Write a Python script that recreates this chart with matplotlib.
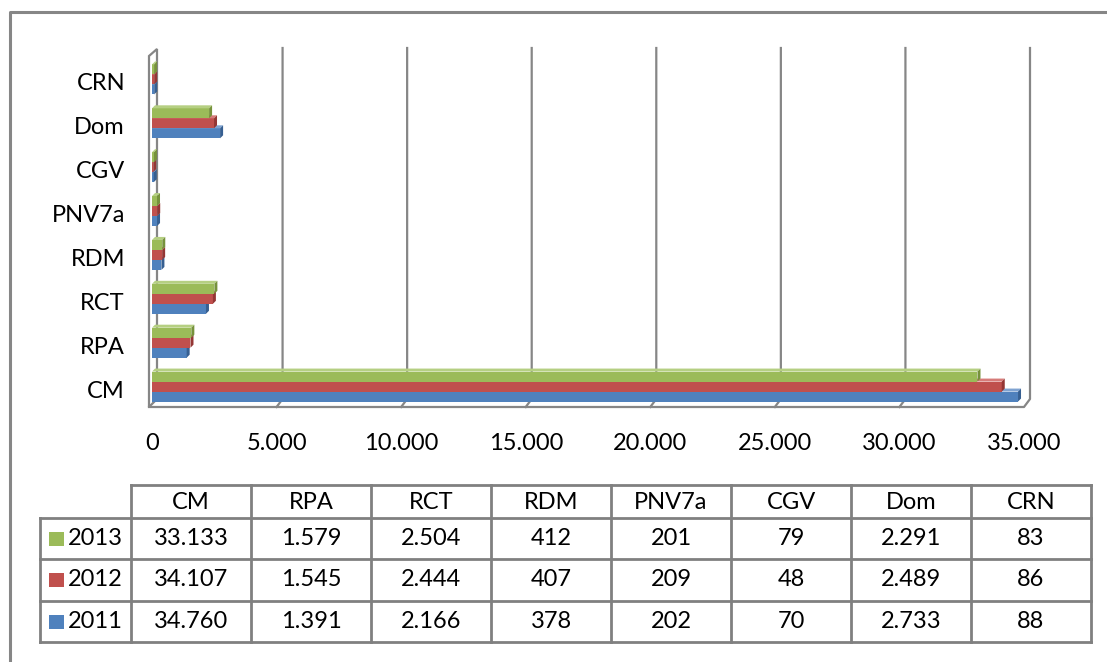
import numpy as np
import matplotlib
matplotlib.use('Agg')
import matplotlib.pyplot as plt
from matplotlib.patches import Polygon, Rectangle

plt.rcParams['font.family'] = ['Lato', 'DejaVu Sans']

# dados do grafico
categorias = ['CM', 'RPA', 'RCT', 'RDM', 'PNV7a', 'CGV', 'Dom', 'CRN']
anos = ['2013', '2012', '2011']
v2013 = [33133, 1579, 2504, 412, 201, 79, 2291, 83]
v2012 = [34107, 1545, 2444, 407, 209, 48, 2489, 86]
v2011 = [34760, 1391, 2166, 378, 202, 70, 2733, 88]
xticks = [0, 5000, 10000, 15000, 20000, 25000, 30000, 35000]

series = {'2013': v2013, '2012': v2012, '2011': v2011}
cores = {'2013': '#9BBB59', '2012': '#C0504D', '2011': '#4F81BD'}
lados = {'2013': '#76923C', '2012': '#943634', '2011': '#365F91'}
topos = {'2013': '#B5CF82', '2012': '#D67B79', '2011': '#7FA3D1'}

W, H = 1107, 662
GRAY = '#868686'
FS = 17


def fmt(v):
    return f'{v:,}'.replace(',', '.')


fig = plt.figure(figsize=(W / 100, H / 100), dpi=100)

# eixo principal (plano frontal)
x0, x1 = 152, 1024
y_bot, y_top = 407, 56
ax = fig.add_axes([x0 / W, (H - y_bot) / H, (x1 - x0) / W, (y_bot - y_top) / H])
ax.set_xlim(0, 35000)
ax.set_ylim(-0.5, 7.5)
ax.axis('off')

px = 35000 / (x1 - x0)   # unidades por pixel em x
py = 8 / (y_bot - y_top)  # unidades por pixel em y

# profundidade das paredes
wx, wy = 6 * px, 8 * py
for t in xticks[1:-1]:
    ax.plot([t + wx, t + wx, t], [7.5 + wy, -0.5 + wy, -0.5], color=GRAY, lw=1.6,
            clip_on=False, zorder=1)
# parede da direita e piso
ax.plot([-3 * px, 35000, 35000 + wx, 35000 + wx], [-0.5, -0.5, -0.5 + wy, 7.5 + wy],
        color=GRAY, lw=1.6, clip_on=False, zorder=1)
# parede da esquerda
parede = Polygon([(-3 * px, -0.5), (-3 * px, 7.5), (5 * px, 7.5 + 7 * py),
                  (5 * px, -0.5 + wy)], closed=True, facecolor='white',
                 edgecolor=GRAY, lw=1.6, clip_on=False, zorder=2)
ax.add_patch(parede)

# barras com efeito 3D
h = 10 * py
dx, dy = 3 * px, 3 * py
ypos = np.arange(len(categorias))
offs = {'2011': -h, '2012': 0.0, '2013': h}
for ano in ['2011', '2012', '2013']:
    vals = series[ano]
    yy = ypos + offs[ano] - 1.5 * py
    ax.barh(yy, vals, height=h, left=0, color=cores[ano], zorder=3, clip_on=False)
    for y, v in zip(yy, vals):
        topo = Polygon([(0, y + h / 2), (v, y + h / 2), (v + dx, y + h / 2 + dy),
                        (dx, y + h / 2 + dy)], closed=True, facecolor=topos[ano],
                       edgecolor='none', zorder=3, clip_on=False)
        lado = Polygon([(v, y - h / 2), (v + dx, y - h / 2 + dy), (v + dx, y + h / 2 + dy),
                        (v, y + h / 2)], closed=True, facecolor=lados[ano],
                       edgecolor='none', zorder=3, clip_on=False)
        ax.add_patch(topo)
        ax.add_patch(lado)

# rotulos
for t in xticks:
    ax.text(t, -0.5 - 36 * py, fmt(t), ha='center', va='center', fontsize=FS)
for i, c in enumerate(categorias):
    ax.text(-27 * px, i - 6 * py, c, ha='right', va='center', fontsize=FS)

# tabela de dados
tab = fig.add_axes([0, 0, 1, 1])
tab.set_xlim(0, W)
tab.set_ylim(H, 0)
tab.axis('off')

cols = [131 + 120 * k for k in range(len(categorias) + 1)]
rows = [485, 518, 559, 601, 642]
leg_x = 40
lk = dict(color='#808080', lw=2, solid_capstyle='projecting')

tab.plot([cols[0], cols[-1]], [rows[0], rows[0]], **lk)
for r in rows[1:]:
    tab.plot([leg_x, cols[-1]], [r, r], **lk)
tab.plot([leg_x, leg_x], [rows[1], rows[-1]], **lk)
for c in cols:
    tab.plot([c, c], [rows[0], rows[-1]], **lk)

for k, cat in enumerate(categorias):
    cx = (cols[k] + cols[k + 1]) / 2
    tab.text(cx, (rows[0] + rows[1]) / 2 + 1, cat, ha='center', va='center', fontsize=FS)

for r, ano in enumerate(anos):
    cy = (rows[r + 1] + rows[r + 2]) / 2
    tab.add_patch(Rectangle((49, cy - 7), 15, 14, facecolor=cores[ano], edgecolor='none'))
    tab.text(68, cy, ano, ha='left', va='center', fontsize=FS)
    for k, v in enumerate(series[ano]):
        cx = (cols[k] + cols[k + 1]) / 2
        tab.text(cx, cy, fmt(v), ha='center', va='center', fontsize=FS)

# borda externa
tab.plot([10, 10, W], [H, 12, 12], color=GRAY, lw=2.2)

fig.savefig('out.png', dpi=100)
